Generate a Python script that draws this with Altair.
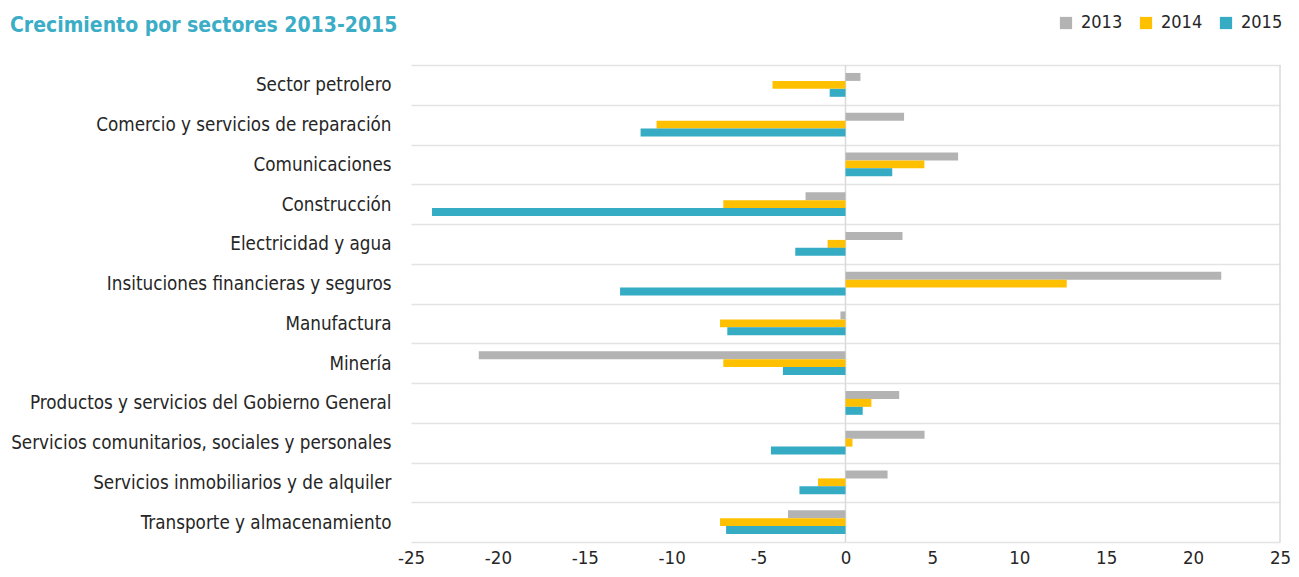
import altair as alt
import pandas as pd

categories = [
    "Sector petrolero",
    "Comercio y servicios de reparación",
    "Comunicaciones",
    "Construcción",
    "Electricidad y agua",
    "Insituciones financieras y seguros",
    "Manufactura",
    "Minería",
    "Productos y servicios del Gobierno General",
    "Servicios comunitarios, sociales y personales",
    "Servicios inmobiliarios y de alquiler",
    "Transporte y almacenamiento",
]
years = ["2013", "2014", "2015"]
v2013 = [0.86, 3.37, 6.48, -2.30, 3.28, 21.62, -0.29, -21.10, 3.09, 4.55, 2.42, -3.31]
v2014 = [-4.20, -10.87, 4.54, -7.03, -1.03, 12.73, -7.22, -7.03, 1.49, 0.40, -1.58, -7.22]
v2015 = [-0.91, -11.79, 2.69, -23.79, -2.89, -12.97, -6.80, -3.60, 0.99, -4.29, -2.65, -6.87]
colors = ["#B3B3B3", "#FFC000", "#35ABC4"]
x_ticks = [-25, -20, -15, -10, -5, 0, 5, 10, 15, 20, 25]
ref_lines = [0, 25]

rows = []
for yr, vals in zip(years, [v2013, v2014, v2015]):
    for c, v in zip(categories, vals):
        rows.append({"sector": c, "year": yr, "value": v})
df = pd.DataFrame(rows)

FONT = "DejaVu Sans Condensed"

rules = alt.Chart(pd.DataFrame({"x": ref_lines})).mark_rule(
    color="#DADADA", strokeWidth=1.5
).encode(x=alt.X("x:Q", scale=alt.Scale(domain=[-25, 25], nice=False)))

bars = alt.Chart(df).mark_bar().encode(
    y=alt.Y(
        "sector:N",
        sort=categories,
        scale=alt.Scale(paddingInner=0, paddingOuter=0),
        axis=alt.Axis(
            title=None, tickBand="extent", grid=True, ticks=False, domain=False,
            labelPadding=20, labelFontSize=18.7, labelColor="#262626", labelFont=FONT,
            gridColor="#E3E3E3", gridWidth=1.5, labelLimit=500,
        ),
    ),
    yOffset=alt.YOffset("year:N", sort=years, scale=alt.Scale(paddingOuter=1.0, paddingInner=0)),
    x=alt.X(
        "value:Q",
        scale=alt.Scale(domain=[-25, 25], nice=False),
        axis=alt.Axis(
            values=x_ticks, grid=False, ticks=False, domain=False, title=None,
            labelFontSize=18.5, labelColor="#262626", labelFont=FONT, labelPadding=6,
            labelExpr="toString(datum.value)", labelFlush=False,
        ),
    ),
    color=alt.Color(
        "year:N",
        scale=alt.Scale(domain=years, range=colors),
        legend=alt.Legend(
            orient="none", legendX=646, legendY=-51, direction="horizontal", title=None,
            symbolType="square", symbolSize=150, symbolStrokeWidth=0,
            labelFontSize=18, labelFont=FONT, labelColor="#262626", columnPadding=14,
            labelOffset=6, padding=0,
        ),
    ),
)

chart = alt.layer(rules, bars).properties(
    width=869,
    height=477,
    autosize="none",
    padding={"left": 403, "top": 57, "right": 11, "bottom": 26},
    title=alt.Title(
        "Crecimiento por sectores 2013-2015",
        anchor="start", frame="group", dx=-401, offset=0, dy=22,
        fontSize=21, font=FONT, fontWeight="bold", color="#3BADC6",
    ),
).configure_view(stroke=None)

chart.save("out.html", embed_options={"renderer": "svg", "actions": False})
